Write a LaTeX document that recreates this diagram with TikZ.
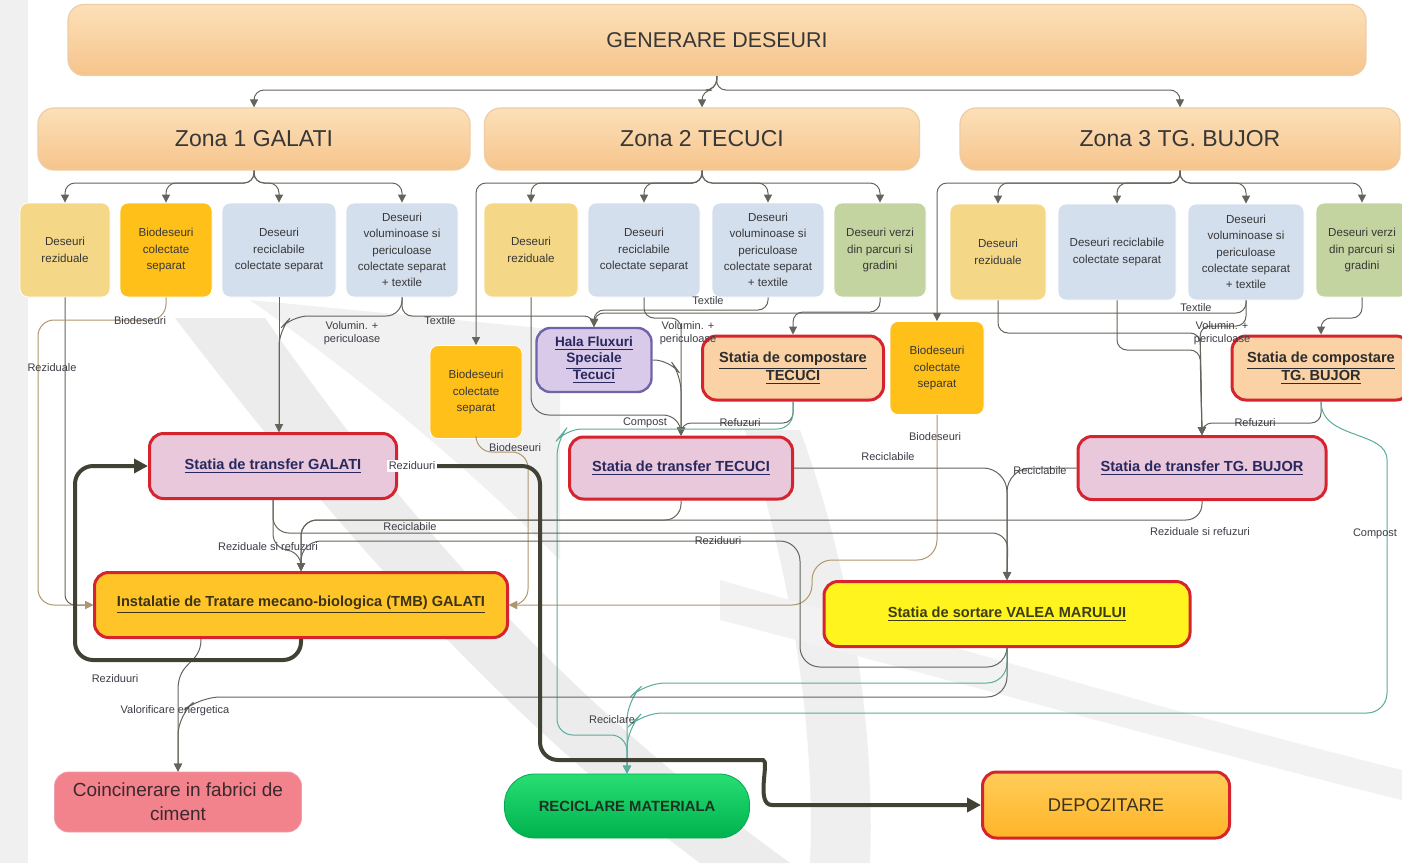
\documentclass[tikz,border=0pt]{standalone}
\usepackage{fontspec}
\setmainfont{Liberation Sans}
\usetikzlibrary{arrows.meta}
\newcommand\myfs[2]{\fontsize{#1}{#2}\selectfont}
\definecolor{txt}{RGB}{55,55,55}
\definecolor{cTop}{RGB}{252,224,184}
\definecolor{cBot}{RGB}{246,196,140}
\definecolor{cBor}{RGB}{238,205,165}
\definecolor{cRez}{RGB}{245,216,135}
\definecolor{cBio}{RGB}{255,192,25}
\definecolor{cRec}{RGB}{212,223,238}
\definecolor{cVer}{RGB}{196,212,160}
\definecolor{cTrf}{RGB}{232,200,218}
\definecolor{cCmp}{RGB}{250,210,165}
\definecolor{cHala}{RGB}{216,202,232}
\definecolor{cHalaB}{RGB}{110,100,170}
\definecolor{cTmb}{RGB}{255,196,40}
\definecolor{cSort}{RGB}{255,244,30}
\definecolor{cCoin}{RGB}{242,130,140}
\definecolor{cCoinB}{RGB}{236,160,168}
\definecolor{cRed}{RGB}{214,36,46}
\definecolor{cLn}{RGB}{100,100,92}
\definecolor{cBioLn}{RGB}{175,150,108}
\definecolor{cTeal}{RGB}{90,172,155}
\definecolor{cThk}{RGB}{66,66,52}
\definecolor{cNavy}{RGB}{40,40,95}
\definecolor{cDark}{RGB}{45,45,45}
\definecolor{cTmbT}{RGB}{60,50,20}
\definecolor{cSortT}{RGB}{60,60,20}
\definecolor{cCoinT}{RGB}{60,40,45}
\definecolor{cGrT}{RGB}{40,222,115}
\definecolor{cGrB}{RGB}{0,178,78}
\definecolor{cGrD}{RGB}{0,170,80}
\definecolor{cGrTxt}{RGB}{30,50,35}
\definecolor{cDepT}{RGB}{255,205,90}
\definecolor{cDepB}{RGB}{255,180,40}
\definecolor{cDepTxt}{RGB}{60,50,30}
\definecolor{cLbl}{RGB}{60,60,70}
\definecolor{bgg}{RGB}{236,236,236}
\begin{document}
\begin{tikzpicture}[x=0.5pt,y=-0.5pt,
  sz/.style 2 args={minimum width=#1*0.5pt, minimum height=#2*0.5pt},
  box/.style={rounded corners=4pt, inner sep=0pt, align=center, draw=white, line width=0.4pt, font=\myfs{5.8}{8.2}, text=txt},
  rz/.style={box, fill=cRez},
  bi/.style={box, fill=cBio},
  rc/.style={box, fill=cRec},
  vz/.style={box, fill=cVer},
  big/.style={rounded corners=8pt, inner sep=0pt, top color=cTop, bottom color=cBot, draw=cBor, line width=0.6pt, text=txt},
  st/.style={rounded corners=7pt, inner sep=0pt, align=center, draw=cRed, line width=1.5pt, font=\bfseries\myfs{7.3}{9}, text=cNavy},
  ln/.style={draw=cLn, line width=0.5pt, rounded corners=5pt},
  ar/.style={ln, -{Triangle[length=4pt,width=4pt]}},
  bar/.style={ar, draw=cBioLn},
  tar/.style={ar, draw=cTeal},
  thk/.style={draw=cThk, line width=2pt, rounded corners=9pt, -{Triangle[length=7pt,width=7pt]}},
  lbl/.style={font=\myfs{5.5}{6.5}, text=cLbl, inner sep=1pt, align=center}
]
\useasboundingbox (0,0) rectangle (1402,863);
\fill[white] (0,0) rectangle (1402,863);
% background swooshes
\fill[bgg!80] (0,0) rectangle (28,863);
\fill[bgg!75] (250,300) .. controls (420,420) and (520,520) .. (560,560) -- (560,330) -- cycle;
\fill[bgg] (175,318) .. controls (360,560) and (520,730) .. (700,863) -- (790,863) .. controls (580,710) and (420,540) .. (265,318) -- cycle;
\fill[bgg!85] (745,430) .. controls (800,600) and (815,760) .. (810,863) -- (870,863) .. controls (875,740) and (855,580) .. (800,430) -- cycle;
\fill[bgg!70] (720,580) .. controls (1000,660) and (1200,720) .. (1402,770) -- (1402,800) .. controls (1200,750) and (990,690) .. (720,620) -- cycle;

% top level
\node[big, sz={1298}{71}, font=\myfs{10.7}{12}] (gen) at (717,40) {GENERARE DESEURI};
\node[big, sz={432}{62}, font=\myfs{11.5}{13}] (z1) at (254,139) {Zona 1 GALATI};
\node[big, sz={435}{62}, font=\myfs{11.5}{13}] (z2) at (702,139) {Zona 2 TECUCI};
\node[big, sz={440}{62}, font=\myfs{11.5}{13}] (z3) at (1180,139) {Zona 3 TG. BUJOR};

% zone 1 children
\node[rz, sz={90}{94}] (rez1) at (65,250) {Deseuri\\reziduale};
\node[bi, sz={92}{94}] (bio1) at (166,250) {Biodeseuri\\colectate\\separat};
\node[rc, sz={114}{94}] (rec1) at (279,250) {Deseuri\\reciclabile\\colectate separat};
\node[rc, sz={112}{94}] (vol1) at (402,250) {Deseuri\\voluminoase si\\periculoase\\colectate separat\\+ textile};
% zone 2 children
\node[rz, sz={94}{94}] (rez2) at (531,250) {Deseuri\\reziduale};
\node[rc, sz={112}{94}] (rec2) at (644,250) {Deseuri\\reciclabile\\colectate separat};
\node[rc, sz={112}{94}] (vol2) at (768,250) {Deseuri\\voluminoase si\\periculoase\\colectate separat\\+ textile};
\node[vz, sz={92}{94}] (ver2) at (880,250) {Deseuri verzi\\din parcuri si\\gradini};
\node[bi, sz={92}{93}] (bio2) at (476,392) {Biodeseuri\\colectate\\separat};
% zone 3 children
\node[rz, sz={96}{96}] (rez3) at (998,252) {Deseuri\\reziduale};
\node[rc, sz={118}{96}] (rec3) at (1117,252) {Deseuri reciclabile\\colectate separat};
\node[rc, sz={116}{96}] (vol3) at (1246,252) {Deseuri\\voluminoase si\\periculoase\\colectate separat\\+ textile};
\node[vz, sz={92}{94}] (ver3) at (1362,250) {Deseuri verzi\\din parcuri si\\gradini};
\node[bi, sz={94}{93}] (bio3) at (937,368) {Biodeseuri\\colectate\\separat};

% stations
\node[st, sz={115}{64}, fill=cHala, draw=cHalaB, line width=1.2pt, font=\bfseries\myfs{6.8}{8.4}] (hala) at (594,360) {\underline{Hala Fluxuri}\\\underline{Speciale}\\\underline{Tecuci}};
\node[st, sz={181}{64}, fill=cCmp, text=cDark] (compT) at (793,368) {\underline{Statia de compostare}\\\underline{TECUCI}};
\node[st, sz={178}{64}, fill=cCmp, text=cDark] (compB) at (1321,368) {\underline{Statia de compostare}\\\underline{TG. BUJOR}};
\node[st, sz={247}{65}, fill=cTrf] (trG) at (273,466) {\underline{Statia de transfer GALATI}};
\node[st, sz={223}{62}, fill=cTrf] (trT) at (681,468) {\underline{Statia de transfer TECUCI}};
\node[st, sz={248}{63}, fill=cTrf] (trB) at (1202,468) {\underline{Statia de transfer TG. BUJOR}};
\node[st, sz={413}{65}, fill=cTmb, text=cTmbT] (tmb) at (301,605) {\underline{Instalatie de Tratare mecano-biologica (TMB) GALATI}};
\node[st, sz={366}{65}, fill=cSort, text=cSortT] (sort) at (1007,614) {\underline{Statia de sortare VALEA MARULUI}};
\node[rounded corners=7pt, sz={247}{60}, fill=cCoin, draw=cCoinB, inner sep=0pt, align=center, font=\myfs{9.5}{12}, text=cCoinT] (coinc) at (178,802) {Coincinerare in fabrici de\\ciment};
\node[rounded corners=15pt, sz={245}{64}, top color=cGrT, bottom color=cGrB, draw=cGrD, inner sep=0pt, font=\bfseries\myfs{7.4}{9}, text=cGrTxt] (recm) at (627,806) {RECICLARE MATERIALA};
\node[st, sz={247}{66}, top color=cDepT, bottom color=cDepB, font=\myfs{9.2}{11}, text=cDepTxt] (depo) at (1106,805) {DEPOZITARE};

% top connectors
\draw[ar] (gen.south) -- (716,90) -| (z1.north);
\draw[ar] (gen.south) -- (716,90) -| (z2.north);
\draw[ar] (gen.south) -- (716,90) -| (z3.north);
\foreach \c in {rez1,bio1,rec1,vol1}{\draw[ar] (z1.south) -- (254,183) -| (\c.north);}
\foreach \c in {rez2,rec2,vol2,ver2,bio2}{\draw[ar] (z2.south) -- (702,183) -| (\c.north);}
\foreach \c in {rez3,rec3,vol3,ver3,bio3}{\draw[ar] (z3.south) -- (1180,183) -| (\c.north);}

% zone 1 flows
\draw[ar] (rez1.south) -- (65,605) -- (tmb.west);
\draw[bar, rounded corners=8pt] (bio1.south) -- (166,320) -- (38,320) -- (38,605) -- (tmb.west);
\node[lbl] (lbio1) at (140,321) {Biodeseuri};
\node[lbl] (lrez1) at (52,368) {Reziduale};
\draw[ar] (rec1.south) -- (rec1.south |- trG.north);
\draw[ar, rounded corners=8pt] (vol1.south) -- (402,316) -- (292,316) -- (279,330) -- (rec1.south |- trG.north);
\node[lbl] (lvol1) at (352,333) {Volumin. +\\periculoase};
\draw[ar] (vol1.south) -- (402,316) -- (594,316) -- (hala.north);
\node[lbl] (ltex1) at (440,321) {Textile};

% zone 2 flows
\draw[ar, rounded corners=9pt] (rez2.south) -- (531,415) -- (681,415) -- (trT.north);
\draw[ar] (rec2.south) -- (644,318) -- (681,318) -- (trT.north);
\draw[ar] (vol2.south) -- (768,310) -- (594,310) -- (hala.north);
\node[lbl] (ltex2) at (708,301) {Textile};
\draw[ar, rounded corners=8pt] (hala.east) -- (670,360) -- (681,375) -- (trT.north);
\node[lbl] (lvol2) at (688,333) {Volumin. +\\periculoase};
\draw[ar] (ver2.south) -- (880,312) -- (793,312) -- (compT.north);
\draw[ar] (compT.south) -- (793,423) -- (681,423) -- (trT.north);
\node[lbl] (lref2) at (740,423) {Refuzuri};
\draw[tar, rounded corners=8pt] (compT.south) -- (793,429) -- (566,429) -- (557,440) -- (557,735) -- (627,735) -- (recm.north);
\node[lbl] (lcmp2) at (645,423) {Compost};
\draw[bar, rounded corners=8pt] (bio2.south) -- (476,452) -- (528,452) -- (528,605) -- (tmb.east);
\node[lbl] (lbio2) at (515,448) {Biodeseuri};

% zone 3 flows
\draw[ar] (rez3.south) -- (998,333) -- (1200,333) -- (trB.north);
\draw[ar] (rec3.south) -- (1117,350) -- (1200,350) -- (trB.north);
\draw[ar] (vol3.south) -- (1246,313) -- (594,313) -- (hala.north);
\node[lbl] (ltex3) at (1196,308) {Textile};
\draw[ar] (vol3.south) -- (1246,326) -- (1200,326) -- (trB.north);
\node[lbl] (lvol3) at (1222,333) {Volumin. +\\periculoase};
\draw[ar] (ver3.south) -- (1362,318) -- (1321,318) -- (compB.north);
\draw[ar] (compB.south) -- (1321,423) -- (1202,423) -- (trB.north);
\node[lbl] (lref3) at (1255,423) {Refuzuri};
\draw[tar, rounded corners=10pt] (compB.south) .. controls (1321,440) and (1387,430) .. (1387,480) -- (1387,713) -- (642,713) -- (627,728) -- (recm.north);
\node[lbl] (lcmp3) at (1375,534) {Compost};
\draw[bar, rounded corners=10pt] (bio3.south) -- (937,560) -- (812,560) -- (812,605) -- (tmb.east);
\node[lbl] (lbio3) at (935,437) {Biodeseuri};

% transfers
\draw[ar, rounded corners=12pt] (trT.east) -| (sort.north);
\node[lbl] (lrc2) at (888,457) {Reciclabile};
\draw[ar, rounded corners=12pt] (trB.west) -| (sort.north);
\node[lbl] (lrc3) at (1040,471) {Reciclabile};
\draw[ar, rounded corners=8pt] (trG.south) -- (273,533) -- (1008,533) -- (sort.north);
\node[lbl] (lrc1) at (410,527) {Reciclabile};
\draw[ar, rounded corners=8pt] (trG.south) -- (273,550) -- (301,550) -- (tmb.north);
\node[lbl] (lrr1) at (268,547) {Reziduale si refuzuri};
\draw[ar, rounded corners=8pt] (trT.south) -- (681,520) -- (301,520) -- (tmb.north);
\draw[ar, rounded corners=8pt] (trB.south) -- (1202,520) -- (301,520) -- (tmb.north);
\node[lbl] (lrr3) at (1200,532) {Reziduale si refuzuri};
\draw[ar, rounded corners=10pt] (sort.south) -- (1007,667) -- (800,667) -- (800,541) -- (301,541) -- (tmb.north);
\node[lbl] (lrzs) at (718,541) {Reziduuri};
\draw[tar, rounded corners=10pt] (sort.south) -- (1007,683) -- (645,683) -- (627,700) -- (recm.north);
\node[lbl] (lrcl) at (612,720) {Reciclare};
\draw[ar, rounded corners=10pt] (sort.south) -- (1007,697) -- (200,697) -- (178,715) -- (coinc.north);
\draw[ar] ([xshift=-50pt]tmb.south) .. controls (201,665) and (178,660) .. (178,700) -- (coinc.north);
\node[lbl] (lrzt) at (115,679) {Reziduuri};
\node[lbl] (lval) at (175,711) {Valorificare energetica};

% thick flows
\draw[thk] (trG.east) -- (540,466) -- (540,760) -- (745,760) .. controls (770,760) and (755,805) .. (790,805) -- (depo.west);
\node[lbl, fill=white] (lrzg) at (412,466) {Reziduuri};
\draw[thk] (tmb.south) -- (301,660) -- (75,660) -- (75,466) -- (trG.west);
\end{tikzpicture}
\end{document}
